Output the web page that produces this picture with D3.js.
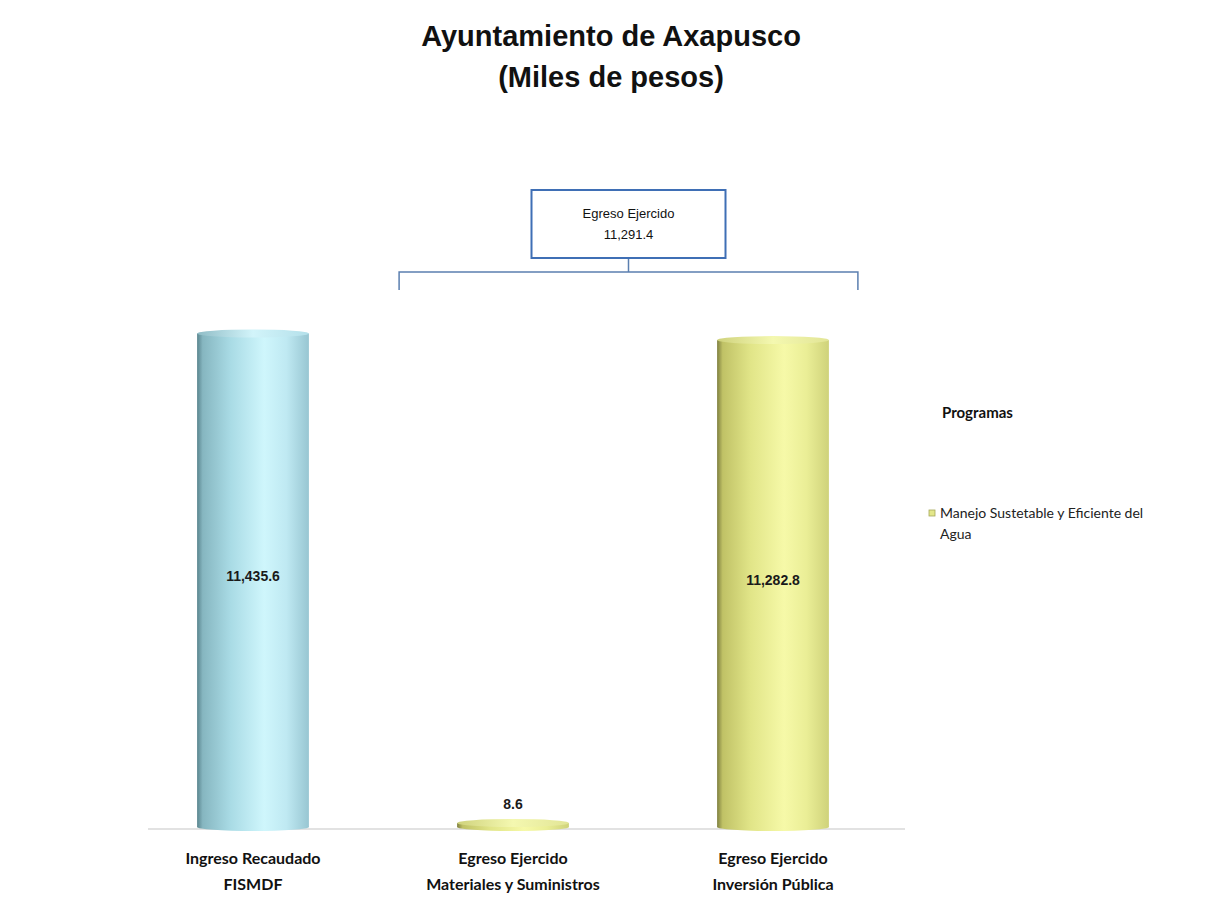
<!DOCTYPE html>
<html>
<head>
<meta charset="utf-8">
<script src="https://cdn.jsdelivr.net/npm/d3@7"></script>
<style>
  body { margin: 0; background: #fff; }
  svg { display: block; }
</style>
</head>
<body>
<div id="chart"></div>
<script>
// datos
var categories = [
    ["Ingreso Recaudado", "FISMDF"],
    ["Egreso Ejercido", "Materiales y Suministros"],
    ["Egreso Ejercido", "Inversión Pública"]
];
var values = [11435.6, 8.6, 11282.8];
var valueLabels = ["11,435.6", "8.6", "11,282.8"];
var kinds = ["ingreso", "egreso", "egreso"];
var legendLabels = ["Manejo Sustetable y Eficiente del", "Agua"];
var groupTitle = "Egreso Ejercido";
var groupIdx = [1, 2];

var W = 1205, H = 909;
var baseY = 829;

var svg = d3.select("#chart").append("svg")
    .attr("width", W)
    .attr("height", H);

var defs = svg.append("defs");

function addGrad(id, stops) {
    var g = defs.append("linearGradient").attr("id", id)
        .attr("x1", "0%").attr("x2", "100%").attr("y1", "0%").attr("y2", "0%");
    stops.forEach(function (s) {
        g.append("stop").attr("offset", s[0]).attr("stop-color", s[1]);
    });
}
addGrad("gIngreso", [["0%", "#5a858e"], ["5%", "#86b6c0"], ["30%", "#a9dbe5"], ["60%", "#cff6fc"], ["80%", "#bfe9f2"], ["100%", "#98c6d2"]]);
addGrad("gEgreso", [["0%", "#7f8040"], ["5%", "#c0c266"], ["30%", "#e1e588"], ["60%", "#f6f9a8"], ["80%", "#eaee96"], ["100%", "#cfd27a"]]);
addGrad("gTopIngreso", [["0%", "#8fbcc6"], ["50%", "#d2f4fa"], ["100%", "#b4e0ea"]]);
addGrad("gTopEgreso", [["0%", "#cfd27c"], ["50%", "#f4f8b0"], ["100%", "#e2e596"]]);

var x = d3.scaleBand()
    .domain(d3.range(values.length))
    .range([123, 903])
    .paddingInner(0.57)
    .paddingOuter(0.285);

var y = d3.scaleLinear()
    .domain([0, 12000])
    .range([baseY, 309]);

// linea base
svg.append("line")
    .attr("x1", 148).attr("x2", 905)
    .attr("y1", baseY).attr("y2", baseY)
    .attr("stroke", "#d9d9d9").attr("stroke-width", 1.5);

var ry = 4;
function topCy(d) { return Math.min(y(d), baseY - 2 - ry); }
function bodyFill(d, i) { return kinds[i] == "ingreso" ? "url(#gIngreso)" : "url(#gEgreso)"; }

var bars = svg.selectAll(".bar").data(values).enter().append("g").attr("class", "bar");

bars.append("ellipse")
    .attr("cx", function (d, i) { return x(i) + x.bandwidth() / 2; })
    .attr("cy", baseY - 2)
    .attr("rx", x.bandwidth() / 2)
    .attr("ry", ry)
    .attr("fill", bodyFill);

bars.append("rect")
    .attr("x", function (d, i) { return x(i); })
    .attr("width", x.bandwidth())
    .attr("y", topCy)
    .attr("height", function (d) { return baseY - 2 - topCy(d); })
    .attr("fill", bodyFill);

bars.append("ellipse")
    .attr("cx", function (d, i) { return x(i) + x.bandwidth() / 2; })
    .attr("cy", topCy)
    .attr("rx", x.bandwidth() / 2)
    .attr("ry", ry)
    .attr("fill", function (d, i) { return kinds[i] == "ingreso" ? "url(#gTopIngreso)" : "url(#gTopEgreso)"; });

// etiquetas de valor
bars.append("text")
    .attr("x", function (d, i) { return x(i) + x.bandwidth() / 2; })
    .attr("y", function (d) {
        var h = baseY - y(d);
        return h > 40 ? y(d) + h / 2 : y(d) - 20;
    })
    .attr("text-anchor", "middle")
    .attr("font-family", "'Liberation Sans Narrow', 'Arial Narrow', Arial, sans-serif")
    .attr("font-weight", "bold")
    .attr("font-size", 14)
    .attr("fill", "#1a1a1a")
    .text(function (d, i) { return valueLabels[i]; });

// etiquetas de categorias
var cat = svg.selectAll(".cat").data(categories).enter().append("text")
    .attr("class", "cat")
    .attr("text-anchor", "middle")
    .attr("font-family", "Lato, 'Open Sans', sans-serif")
    .attr("font-weight", "bold")
    .attr("font-size", 16)
    .attr("fill", "#111");
cat.each(function (d, i) {
    var t = d3.select(this);
    d.forEach(function (line, j) {
        t.append("tspan")
            .attr("x", x(i) + x.bandwidth() / 2)
            .attr("y", 864 + j * 26)
            .text(line);
    });
});

// titulo
svg.append("text")
    .attr("x", 611).attr("y", 46)
    .attr("text-anchor", "middle")
    .attr("font-family", "'Liberation Sans', Arial, sans-serif")
    .attr("font-weight", "bold")
    .attr("font-size", 29)
    .attr("fill", "#111")
    .text("Ayuntamiento de Axapusco");
svg.append("text")
    .attr("x", 611).attr("y", 87)
    .attr("text-anchor", "middle")
    .attr("font-family", "'Liberation Sans', Arial, sans-serif")
    .attr("font-weight", "bold")
    .attr("font-size", 29)
    .attr("fill", "#111")
    .text("(Miles de pesos)");

// caja del egreso ejercido y corchete
var left = x(groupIdx[0]) - 58;
var right = x(groupIdx[1]) + x.bandwidth() + 29;
var mid = (left + right) / 2;
var total = d3.sum(groupIdx, function (i) { return values[i]; });
var boxW = 194, boxH = 68, boxTop = 190;

svg.append("path")
    .attr("d", "M" + left + ",290 V272 H" + right + " V290 M" + mid + ",272 V" + (boxTop + boxH))
    .attr("fill", "none")
    .attr("stroke", "#5b7fb0")
    .attr("stroke-width", 1.5);

svg.append("rect")
    .attr("x", mid - boxW / 2).attr("y", boxTop)
    .attr("width", boxW).attr("height", boxH)
    .attr("fill", "#fff")
    .attr("stroke", "#3f6fb5")
    .attr("stroke-width", 2);

var boxText = svg.append("text")
    .attr("text-anchor", "middle")
    .attr("font-family", "'Liberation Sans Narrow', 'Arial Narrow', Arial, sans-serif")
    .attr("font-size", 13)
    .attr("fill", "#111");
boxText.append("tspan").attr("x", mid).attr("y", 218).text(groupTitle);
boxText.append("tspan").attr("x", mid).attr("y", 239).text(d3.format(",.1f")(total));

// leyenda
svg.append("text")
    .attr("x", 942).attr("y", 418)
    .attr("font-family", "Lato, 'Open Sans', sans-serif")
    .attr("font-weight", "bold")
    .attr("font-size", 15)
    .attr("fill", "#111")
    .text("Programas");

svg.append("rect")
    .attr("x", 929).attr("y", 510)
    .attr("width", 6).attr("height", 6)
    .attr("fill", "#e3e78a")
    .attr("stroke", "#a6a85a")
    .attr("stroke-width", 0.8);

var leg = svg.append("text")
    .attr("font-family", "Lato, 'Open Sans', sans-serif")
    .attr("font-size", 14)
    .attr("fill", "#222");
legendLabels.forEach(function (l, j) {
    leg.append("tspan").attr("x", 940).attr("y", 518 + j * 21).text(l);
});
</script>
</body>
</html>
